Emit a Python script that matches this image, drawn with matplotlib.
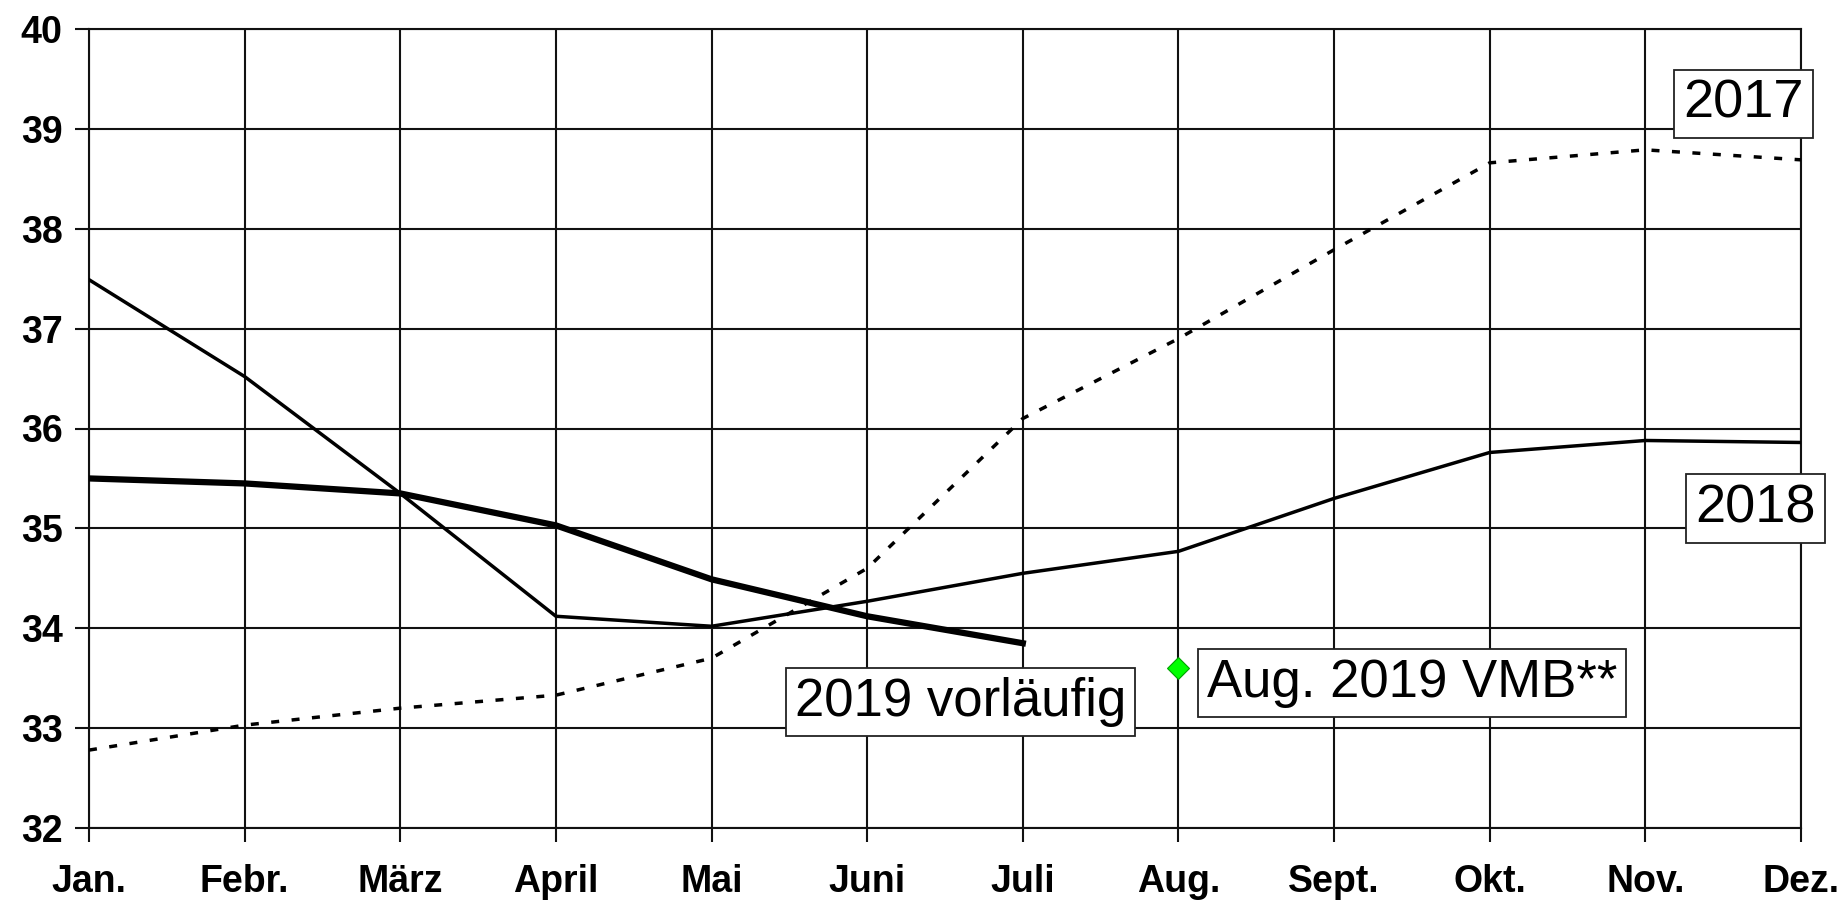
import matplotlib
matplotlib.use("Agg")
import matplotlib.pyplot as plt

plt.rcParams['font.family'] = ['Liberation Sans', 'DejaVu Sans']

months = ['Jan.', 'Febr.', 'März', 'April', 'Mai', 'Juni', 'Juli',
          'Aug.', 'Sept.', 'Okt.', 'Nov.', 'Dez.']
y2017 = [32.78, 33.03, 33.20, 33.33, 33.70, 34.60, 36.10, 36.90, 37.79, 38.66, 38.79, 38.69]
y2018 = [37.49, 36.52, 35.35, 34.12, 34.02, 34.27, 34.55, 34.77, 35.30, 35.76, 35.88, 35.86]
y2019 = [35.50, 35.45, 35.35, 35.03, 34.49, 34.12, 33.85]
vmb_month = 7
vmb_value = 33.60

fig = plt.figure(figsize=(18.4, 9.01), dpi=100)
ax = fig.add_axes([89 / 1840, 1 - 828 / 901, (1801 - 89) / 1840, (828 - 29) / 901])

x = list(range(len(months)))
ax.plot(x, y2017, color='black', lw=2.5, linestyle=(0, (2.3, 3.6)), zorder=3)
ax.plot(x, y2018, color='black', lw=2.5, zorder=3)
ax.plot(x[:len(y2019)], y2019, color='black', lw=4.5, zorder=4)
ax.plot([vmb_month], [vmb_value], marker='D', ms=11, color='#00ff00',
        markeredgecolor='#00a000', markeredgewidth=0.8, linestyle='none', zorder=5)

ax.set_xlim(0, 11)
ax.set_ylim(32, 40)
ax.set_xticks(x)
ax.set_xticklabels(months)
ax.set_yticks(range(32, 41))

gridc = '#111111'
ax.grid(True, color=gridc, lw=1.5, zorder=1)
for s in ax.spines.values():
    s.set_color(gridc)
    s.set_linewidth(1.5)
ax.tick_params(axis='both', length=10, width=1.5, color=gridc, labelsize=27)
ax.tick_params(axis='x', pad=16)
ax.tick_params(axis='y', pad=9)
for lbl in ax.get_xticklabels() + ax.get_yticklabels():
    lbl.set_fontweight('bold')

box = dict(boxstyle='square,pad=0.17', facecolor='white', edgecolor='#222222', lw=1.3)
ax.text(10.63, 39.25, '2017', fontsize=39, ha='center', va='center', bbox=box, zorder=6, clip_on=False)
ax.text(10.71, 35.20, '2018', fontsize=39, ha='center', va='center', bbox=box, zorder=6, clip_on=False)
ax.text(5.60, 33.26, '2019 vorläufig', fontsize=38, ha='center', va='center', bbox=box, zorder=6)
ax.text(8.50, 33.45, 'Aug. 2019 VMB**', fontsize=38, ha='center', va='center', bbox=box, zorder=6)

fig.savefig('out.png', dpi=100, facecolor='white')
